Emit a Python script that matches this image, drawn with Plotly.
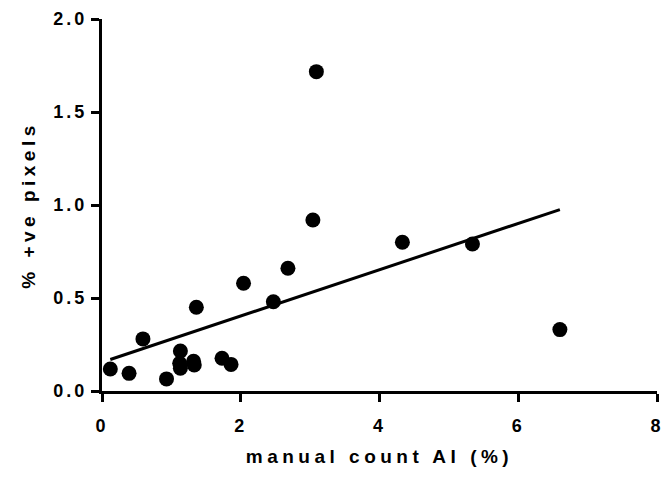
import numpy as np
import plotly.graph_objects as go

# Data
manual_ai = [0.12, 0.39, 0.59, 0.93, 1.13, 1.12, 1.13, 1.32, 1.33, 1.73, 1.86, 1.36,
             3.09, 3.04, 4.33, 5.34, 2.68, 2.04, 2.47, 6.60]
pos_pixels = [0.118, 0.095, 0.28, 0.065, 0.215, 0.149, 0.122, 0.16, 0.14, 0.176, 0.143, 0.45,
              1.717, 0.919, 0.80, 0.79, 0.66, 0.579, 0.48, 0.33]
x_ticks = [0, 2, 4, 6, 8]
y_ticks = [0.0, 0.5, 1.0, 1.5, 2.0]

x = np.array(manual_ai)
y = np.array(pos_pixels)
slope, intercept = np.polyfit(x, y, 1)
fit_x = np.array([x.min(), x.max()])
fit_y = slope * fit_x + intercept

fig = go.Figure()
fig.add_trace(go.Scatter(x=fit_x, y=fit_y, mode="lines",
                         line=dict(color="black", width=3), showlegend=False))
fig.add_trace(go.Scatter(x=x, y=y, mode="markers",
                         marker=dict(color="black", size=15, line=dict(width=0)),
                         showlegend=False, cliponaxis=False))

font = dict(family="Liberation Sans, Arial, sans-serif", color="black", weight="bold")
axis_common = dict(showgrid=False, zeroline=False, showline=True, linecolor="black",
                   linewidth=3, ticks="outside", ticklen=8, tickwidth=3, tickcolor="black",
                   automargin=False, ticklabeloverflow="allow",
                   tickfont=dict(size=18, **font))

fig.update_layout(
    width=665, height=480,
    margin=dict(l=102, r=8, t=19, b=89),
    plot_bgcolor="white", paper_bgcolor="white",
    xaxis=dict(range=[0, 8], tickvals=x_ticks, ticktext=[str(v) for v in x_ticks],
               ticklabelstandoff=8,
               title=dict(text="manual count AI (%)", font=dict(size=19, **font), standoff=16),
               **axis_common),
    yaxis=dict(range=[0, 2], tickvals=y_ticks, ticktext=[f"{v:.1f}" for v in y_ticks],
               ticklabelstandoff=0,
               title=dict(text="% +ve pixels", font=dict(size=19, **font), standoff=22),
               **axis_common),
)

post = """
var gd = document.getElementById('{plot_id}');
function spaceText(){
  gd.querySelectorAll('.xtick text, .ytick text').forEach(function(e){e.setAttribute('letter-spacing','3px');});
  gd.querySelectorAll('text.xtitle, text.ytitle').forEach(function(e){e.setAttribute('letter-spacing','4.5px');});
}
spaceText();
gd.on('plotly_afterplot', spaceText);
"""
fig.write_html("out.html", post_script=post)
